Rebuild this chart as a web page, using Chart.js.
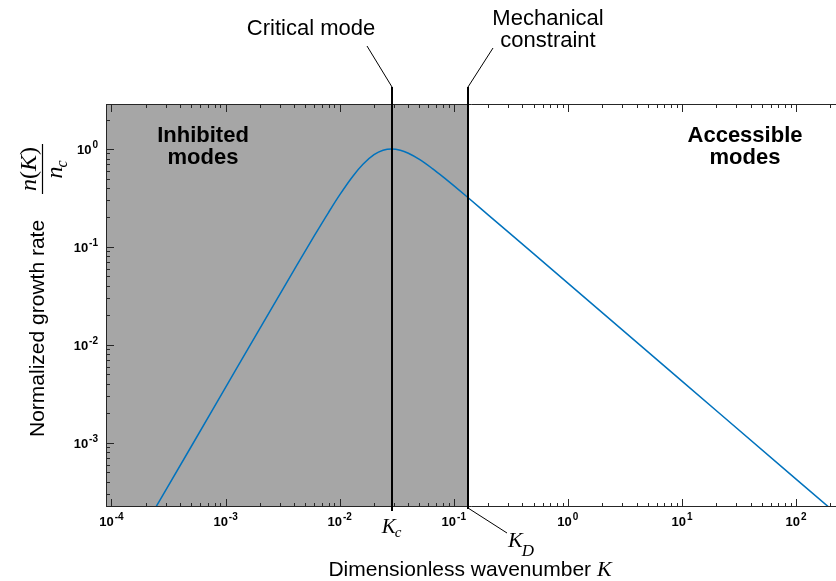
<!DOCTYPE html>
<html><head><meta charset="utf-8">
<script src="https://cdn.jsdelivr.net/npm/chart.js@4"></script>
<style>html,body{margin:0;padding:0;background:#fff;overflow:hidden}canvas{display:block}</style>
</head><body><canvas id="c" width="836" height="581"></canvas>
<script>
// ---- data ----
const K_VALUES = [2e-4, 5e-4, 1e-3, 2e-3, 4e-3, 6e-3, 8e-3, 0.01, 0.013, 0.016, 0.02, 0.024, 0.0285, 0.034, 0.04, 0.05, 0.065, 0.08, 0.1, 0.133, 0.2, 0.5, 1, 10, 100, 300];
const GROWTH_RATE = [1.48e-4, 9.2e-4, 3.69e-3, 1.48e-2, 0.0588, 0.1305, 0.226, 0.340, 0.525, 0.698, 0.874, 0.970, 1.0, 0.971, 0.905, 0.783, 0.631, 0.523, 0.423, 0.320, 0.213, 0.0855, 0.0428, 0.00428, 0.000428, 0.000143];
const K_C = 0.0285;   // critical mode
const K_D = 0.133;    // mechanical constraint
const X_TICK_EXPONENTS = [-4, -3, -2, -1, 0, 1, 2];
const Y_TICK_EXPONENTS = [-3, -2, -1, 0];
const X_RANGE = [8.95e-5, 224];
const Y_RANGE = [2.22e-4, 2.88];
const REGION_LABELS = [["Inhibited", "modes"], ["Accessible", "modes"]];

const SANS = "'Liberation Sans', Arial, Helvetica, sans-serif";
const SERIF = "'Liberation Serif', 'Times New Roman', serif";
const SHADE = '#a6a6a6';
const CURVE = '#0072bd';
const AXIS = '#262626';

function minorValues(lo, hi) {
  const out = [];
  for (let e = -6; e <= 4; e++) for (let m = 2; m <= 9; m++) {
    const v = m * Math.pow(10, e);
    if (v > lo && v < hi) out.push(v);
  }
  return out;
}

function powLabel(ctx, exp, x, y, align) {
  const base = '10', sup = String(exp);
  ctx.font = 'bold 13px ' + SANS;
  const wb = ctx.measureText(base).width;
  ctx.font = 'bold 10px ' + SANS;
  const ws = ctx.measureText(sup).width;
  const gap = 1;
  const total = wb + ws + gap;
  let sx = align === 'center' ? x - total / 2 : x - total;
  ctx.textAlign = 'left';
  ctx.textBaseline = 'alphabetic';
  ctx.font = 'bold 13px ' + SANS;
  ctx.fillText(base, sx, y);
  ctx.font = 'bold 10px ' + SANS;
  ctx.fillText(sup, sx + wb + gap, y - 6);
}

function italicSub(ctx, main, sub, x, y, size, subSize, align, drop) {
  ctx.font = 'italic ' + size + 'px ' + SERIF;
  const wm = ctx.measureText(main).width;
  ctx.font = 'italic ' + subSize + 'px ' + SERIF;
  const wsb = ctx.measureText(sub).width;
  const total = wm + wsb;
  const sx = align === 'center' ? x - total / 2 : x;
  ctx.textAlign = 'left';
  ctx.font = 'italic ' + size + 'px ' + SERIF;
  ctx.fillText(main, sx, y);
  ctx.font = 'italic ' + subSize + 'px ' + SERIF;
  ctx.fillText(sub, sx + wm - 1, y + (drop || 4));
}

const deco = {
  id: 'deco',
  beforeDatasetsDraw(chart) {
    const { ctx, chartArea: a, scales: { x } } = chart;
    const xd = x.getPixelForValue(K_D);
    ctx.save();
    ctx.fillStyle = SHADE;
    ctx.fillRect(a.left, a.top, xd - a.left, a.bottom - a.top);
    ctx.restore();
  },
  afterDatasetsDraw(chart) {
    const { ctx, chartArea: a, scales: { x, y } } = chart;
    ctx.save();
    // frame
    ctx.strokeStyle = AXIS;
    ctx.lineWidth = 1;
    ctx.beginPath();
    ctx.moveTo(a.left + 0.5, a.top + 0.5); ctx.lineTo(a.right, a.top + 0.5);
    ctx.moveTo(a.left + 0.5, a.top + 0.5); ctx.lineTo(a.left + 0.5, a.bottom - 0.5);
    ctx.moveTo(a.left + 0.5, a.bottom - 0.5); ctx.lineTo(a.right, a.bottom - 0.5);
    // x ticks (bottom and top, inward)
    const tick = (v, len) => {
      const px = Math.round(x.getPixelForValue(v)) + 0.5;
      ctx.moveTo(px, a.bottom); ctx.lineTo(px, a.bottom - len);
      ctx.moveTo(px, a.top); ctx.lineTo(px, a.top + len);
    };
    X_TICK_EXPONENTS.map(e => Math.pow(10, e)).forEach(v => tick(v, 8));
    minorValues(X_RANGE[0], X_RANGE[1]).forEach(v => tick(v, 4));
    const ytick = (v, len) => {
      const py = Math.round(y.getPixelForValue(v)) + 0.5;
      ctx.moveTo(a.left, py); ctx.lineTo(a.left + len, py);
    };
    Y_TICK_EXPONENTS.map(e => Math.pow(10, e)).forEach(v => ytick(v, 8));
    minorValues(Y_RANGE[0], Y_RANGE[1]).forEach(v => ytick(v, 4));
    ctx.stroke();

    // tick labels
    ctx.fillStyle = '#000';
    X_TICK_EXPONENTS.forEach(e => powLabel(ctx, e, x.getPixelForValue(Math.pow(10, e)), a.bottom + 19, 'center'));
    Y_TICK_EXPONENTS.forEach(e => powLabel(ctx, e, a.left - 8, y.getPixelForValue(Math.pow(10, e)) + 5, 'right'));

    // vertical marker lines
    const xc = Math.round(x.getPixelForValue(K_C));
    const xd = Math.round(x.getPixelForValue(K_D));
    ctx.strokeStyle = '#000';
    ctx.lineWidth = 2;
    ctx.beginPath();
    ctx.moveTo(xc, 87); ctx.lineTo(xc, a.bottom + 4);
    ctx.moveTo(xd, 87); ctx.lineTo(xd, a.bottom + 2);
    ctx.stroke();
    // leader lines
    ctx.lineWidth = 1;
    ctx.beginPath();
    ctx.moveTo(xc, 87); ctx.lineTo(xc - 25, 46);
    ctx.moveTo(xd, 87); ctx.lineTo(xd + 25, 48);
    ctx.moveTo(xd, a.bottom + 1); ctx.lineTo(xd + 39, a.bottom + 26);
    ctx.stroke();

    // annotation texts
    ctx.fillStyle = '#000';
    ctx.textBaseline = 'alphabetic';
    ctx.textAlign = 'center';
    ctx.font = '22px ' + SANS;
    ctx.fillText('Critical mode', xc - 81, 35);
    ctx.fillText('Mechanical', xd + 80, 25);
    ctx.fillText('constraint', xd + 80, 47);

    ctx.font = 'bold 22px ' + SANS;
    ctx.fillText(REGION_LABELS[0][0], a.left + 97, 142);
    ctx.fillText(REGION_LABELS[0][1], a.left + 97, 164);
    ctx.fillText(REGION_LABELS[1][0], a.left + 639, 142);
    ctx.fillText(REGION_LABELS[1][1], a.left + 639, 164);

    // K_c and K_D labels
    italicSub(ctx, 'K', 'c', xc, a.bottom + 26, 21, 15, 'center', 4);
    italicSub(ctx, 'K', 'D', xd + 40, a.bottom + 40, 22, 17, 'left', 9);

    // x axis title
    ctx.font = '21px ' + SANS;
    const t1 = 'Dimensionless wavenumber ';
    const w1 = ctx.measureText(t1).width;
    ctx.font = 'italic 22px ' + SERIF;
    const w2 = ctx.measureText('K').width;
    const sx = 470 - (w1 + w2) / 2;
    ctx.textAlign = 'left';
    ctx.font = '21px ' + SANS;
    ctx.fillText(t1, sx, 576);
    ctx.font = 'italic 22px ' + SERIF;
    ctx.fillText('K', sx + w1, 576);

    // y axis title (rotated)
    ctx.save();
    ctx.rotate(-Math.PI / 2);
    ctx.font = '21px ' + SANS;
    ctx.textAlign = 'left';
    ctx.fillText('Normalized growth rate', -437, 44);
    // fraction n(K)/n_c
    const fc = -169; // centre (rotated x) = screen y 169
    const parts = [['n', 'italic '], ['(', ''], ['K', 'italic '], [')', '']];
    const FS = 24;
    let wn = 0;
    parts.forEach(p => { ctx.font = p[1] + FS + 'px ' + SERIF; wn += ctx.measureText(p[0]).width; });
    let px = fc - wn / 2;
    parts.forEach(p => { ctx.font = p[1] + FS + 'px ' + SERIF; ctx.fillText(p[0], px, 36); px += ctx.measureText(p[0]).width; });
    ctx.lineWidth = 1.2;
    ctx.beginPath();
    ctx.moveTo(fc - wn / 2 - 3, 42.5); ctx.lineTo(fc + wn / 2 + 3, 42.5);
    ctx.stroke();
    italicSub(ctx, 'n', 'c', fc, 62, FS, 16, 'center', 5);
    ctx.restore();

    ctx.restore();
  }
};

new Chart(document.getElementById('c'), {
  type: 'line',
  data: {
    datasets: [{
      data: K_VALUES.map((k, i) => ({ x: k, y: GROWTH_RATE[i] })),
      borderColor: CURVE,
      borderWidth: 1.5,
      pointRadius: 0,
      fill: false,
      cubicInterpolationMode: 'monotone'
    }]
  },
  options: {
    responsive: false,
    animation: false,
    devicePixelRatio: 1,
    layout: { padding: { top: 104, right: 0, left: 0, bottom: 0 } },
    plugins: { legend: { display: false }, tooltip: { enabled: false } },
    scales: {
      x: {
        type: 'logarithmic', min: X_RANGE[0], max: X_RANGE[1],
        grid: { display: false }, border: { display: false },
        ticks: { display: false },
        afterFit(s) { s.height = 74; }
      },
      y: {
        type: 'logarithmic', min: Y_RANGE[0], max: Y_RANGE[1],
        grid: { display: false }, border: { display: false },
        ticks: { display: false },
        afterFit(s) { s.width = 106; }
      }
    }
  },
  plugins: [deco]
});
</script>
</body></html>
